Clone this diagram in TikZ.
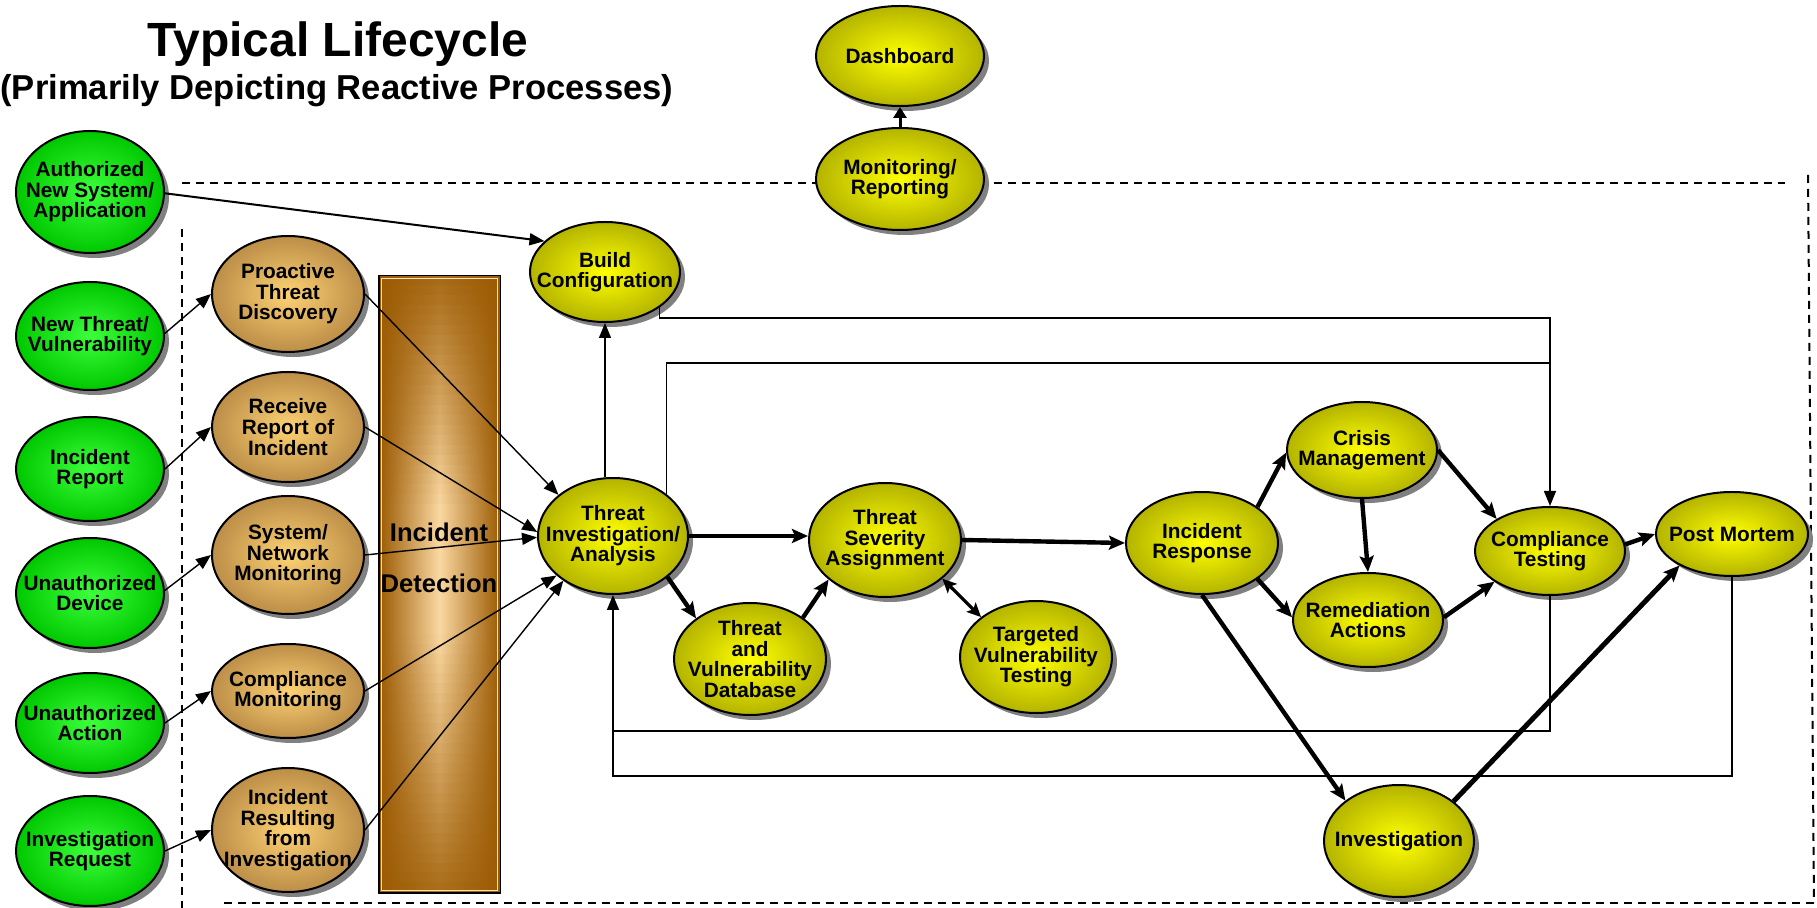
\documentclass[tikz,border=0pt]{standalone}
\usepackage{fontspec}
\setmainfont{Liberation Sans}
\usetikzlibrary{shapes.geometric, arrows.meta, shadows, calc}

\definecolor{grnin}{RGB}{60,255,60}
\definecolor{grnout}{RGB}{0,200,0}
\definecolor{tanin}{RGB}{253,210,115}
\definecolor{tanout}{RGB}{188,142,72}
\definecolor{yelin}{RGB}{255,255,0}
\definecolor{yelout}{RGB}{180,180,0}
\definecolor{barDark}{RGB}{155,90,2}
\definecolor{barLight}{RGB}{250,216,162}
\definecolor{shadowgray}{RGB}{128,128,128}

\tikzset{
  blob/.style={ellipse, draw=black, line width=1pt, inner sep=0pt, shading=radial,
    drop shadow={shadow xshift=2.5pt, shadow yshift=-2.5pt, fill=shadowgray, opacity=1}},
  gblob/.style={blob, inner color=grnin, outer color=grnout},
  tblob/.style={blob, inner color=tanin, outer color=tanout},
  yblob/.style={blob, inner color=yelin, outer color=yelout},
  sz/.style 2 args={minimum width=#1pt, minimum height=#2pt},
  txt/.style={font=\fontsize{10.4}{10.3}\selectfont\bfseries, align=center, inner sep=0pt},
  frameline/.style={line width=1pt, dash pattern=on 4pt off 3pt},
  thinline/.style={line width=0.75pt},
  thinarrow/.style={line width=0.7pt, -{Triangle[length=7.5pt, width=6pt]}},
  medarrow/.style={line width=1pt, -{Triangle[length=7.5pt, width=6pt]}},
  thickarrow/.style={line width=2.2pt, -{Stealth[length=8pt, width=7pt, inset=1.5pt]}},
  dblarrow/.style={line width=1.6pt, {Stealth[length=7pt, width=6.5pt, inset=1.5pt]}-{Stealth[length=7pt, width=6.5pt, inset=1.5pt]}},
}

\begin{document}
\begin{tikzpicture}[x=0.5pt, y=-0.5pt]
\useasboundingbox (0,0) rectangle (1817,908);

% title
\node[font=\fontsize{24}{28}\selectfont\bfseries, anchor=base] (title) at (338,57) {Typical Lifecycle};
\node[font=\fontsize{17.3}{20}\selectfont\bfseries, anchor=base] (subtitle) at (337,100) {(Primarily Depicting Reactive Processes)};

% dashed boundary of the process area
\draw[frameline] (182,183) -- (1785,183);
\draw[frameline] (182,229) -- (182,908);
\draw[frameline] (1808,175) -- (1814,903);
\draw[frameline] (224,903) -- (1814,903);

% incident detection bar: horizontal strips, each shaded dark-light-dark,
% with the light centre brightest around the middle of the bar
\node[minimum width=60.5pt, minimum height=308.5pt, inner sep=0pt] (bar) at (439.5,584.5) {};
\foreach \i in {0,...,61}{
  \pgfmathsetmacro\t{(\i+0.5)/62}
  \pgfmathsetmacro\L{\t<0.38 ? 100*(0.12+0.88*\t/0.38) : (\t<0.58 ? 100 : 100*(1-0.85*(\t-0.58)/0.42))}
  \colorlet{stripmid}{barLight!\L!barDark}
  \path[left color=barDark, right color=barDark, middle color=stripmid]
    (379,{276+\i*9.95}) rectangle (500,{286.5+\i*9.95});
}
\draw[barLight!80!white, line width=0.6pt] ($(bar.north west)+(3,3)$) rectangle ($(bar.south east)+(-3,-3)$);
\draw[line width=0.9pt] (bar.north west) rectangle (bar.south east);
\node[font=\fontsize{12.8}{14}\selectfont\bfseries, anchor=base] (bar-t1) at (439,542) {Incident};
\node[font=\fontsize{12.8}{14}\selectfont\bfseries, anchor=base] (bar-t2) at (439,593) {Detection};

% triggers
\node[gblob, sz={74}{61}] (auth) at (90,192) {};
\node[txt] (auth-t) at (auth) {Authorized\\New System/\\Application};
\node[gblob, sz={74}{54}] (nthreat) at (90,336) {};
\node[txt] (nthreat-t) at (nthreat) {New Threat/\\Vulnerability};
\node[gblob, sz={74}{52}] (irep) at (90,469) {};
\node[txt] (irep-t) at (irep) {Incident\\Report};
\node[gblob, sz={74}{55}] (udev) at (90,593) {};
\node[txt] (udev-t) at (udev) {Unauthorized\\Device};
\node[gblob, sz={74}{50}] (uact) at (90,723) {};
\node[txt] (uact-t) at (uact) {Unauthorized\\Action};
\node[gblob, sz={74}{55}] (ireq) at (90,851) {};
\node[txt] (ireq-t) at (ireq) {Investigation\\Request};

% detection sources
\node[tblob, sz={76}{58}] (ptd) at (288,294) {};
\node[txt] (ptd-t) at (ptd) {Proactive\\Threat\\Discovery};
\node[tblob, sz={76}{55}] (rri) at (288,427) {};
\node[txt] (rri-t) at (rri) {Receive\\Report of\\Incident};
\node[tblob, sz={76}{59}] (snm) at (288,555) {};
\node[txt] (snm-t) at (snm) {System/\\Network\\Monitoring};
\node[tblob, sz={76}{47}] (cmon) at (288,691) {};
\node[txt] (cmon-t) at (cmon) {Compliance\\Monitoring};
\node[tblob, sz={76}{62}] (irfi) at (288,830) {};
\node[txt] (irfi-t) at (irfi) {Incident\\Resulting\\from\\Investigation};

% process steps
\node[yblob, sz={84}{50}] (dash) at (900,56) {};
\node[txt] (dash-t) at (dash) {Dashboard};
\node[yblob, sz={84}{51}] (monrep) at (900,179) {};
\node[txt] (monrep-t) at (monrep) {Monitoring/\\Reporting};
\node[yblob, sz={75}{50}] (build) at (605,272) {};
\node[txt] (build-t) at (build) {Build\\Configuration};
\node[yblob, sz={75}{58}] (tia) at (613,536) {};
\node[txt] (tia-t) at (tia) {Threat\\Investigation/\\Analysis};
\node[yblob, sz={76}{57}] (tsa) at (885,540) {};
\node[txt] (tsa-t) at (tsa) {Threat\\Severity\\Assignment};
\node[yblob, sz={76}{56}] (tvd) at (750,659) {};
\node[txt] (tvd-t) at (tvd) {Threat\\and\\Vulnerability\\Database};
\node[yblob, sz={76}{56}] (tvt) at (1036,657) {};
\node[txt] (tvt-t) at (tvt) {Targeted\\Vulnerability\\Testing};
\node[yblob, sz={76}{51}] (ir) at (1202,543) {};
\node[txt] (ir-t) at (ir) {Incident\\Response};
\node[yblob, sz={75}{48}] (cm) at (1362,450) {};
\node[txt] (cm-t) at (cm) {Crisis\\Management};
\node[yblob, sz={75}{47}] (ra) at (1368,620) {};
\node[txt] (ra-t) at (ra) {Remediation\\Actions};
\node[yblob, sz={75}{44}] (ct) at (1550,551) {};
\node[txt] (ct-t) at (ct) {Compliance\\Testing};
\node[yblob, sz={76}{42}] (pm) at (1732,534) {};
\node[txt] (pm-t) at (pm) {Post Mortem};
\node[yblob, sz={75}{56}] (inv) at (1399,841) {};
\node[txt] (inv-t) at (inv) {Investigation};

% bend points of the routed lines
\coordinate (bus1) at (1550,318);
\coordinate (bus2) at (1550,363);
\coordinate (fb1) at (613,731);
\coordinate (fb2) at (613,776);

% connectors
\draw[medarrow] (auth.-1) -- (build.153);
\draw[thinarrow] (nthreat.2) -- (ptd.west);
\draw[thinarrow] (irep.east) -- (rri.west);
\draw[thinarrow] (udev.2) -- (snm.west);
\draw[thinarrow] (uact.east) -- (cmon.west);
\draw[thinarrow] (ireq.east) -- (irfi.west);
\draw[thinarrow] (ptd.east) -- (tia.143);
\draw[thinarrow] (rri.east) -- (tia.177);
\draw[thinarrow] (snm.east) -- (tia.181);
\draw[thinarrow] (cmon.east) -- (tia.215);
\draw[thinarrow] (irfi.east) -- (tia.222);
\draw[thinarrow] (build.south |- tia.north) -- (build.south);
\draw[thinline, -{Triangle[length=7.5pt, width=6pt]}] (build.-33) |- (bus1) -- (ct.north);
\draw[thinline] (tia.38) |- (bus2);
\draw[thickarrow] (tia.east) -- (tia.east -| tsa.west);
\draw[thickarrow] (tia.-37) -- (tvd.143);
\draw[thickarrow] (tvd.38) -- (tsa.215);
\draw[dblarrow] (tsa.-34) -- (tvt.144);
\draw[thickarrow] (tsa.east) -- (ir.west);
\draw[thickarrow] (ir.33) -- (cm.182);
\draw[thickarrow] (ir.-33) -- (ra.178);
\draw[thickarrow] (cm.south) -- (ra.north);
\draw[thickarrow] (cm.east) -- (ct.149);
\draw[thickarrow] (ra.2) -- (ct.209);
\draw[thickarrow] (ct.5) -- (pm.west);
\draw[thickarrow] (ir.south) -- (inv.143);
\draw[thickarrow, line width=2.5pt] (inv.36) -- (pm.211);
\draw[thinline] (ct.south) |- (fb1);
\draw[thinline, -{Triangle[length=7.5pt, width=6pt]}] (pm.south) |- (fb2) -- (tia.south);
\draw[line width=1.5pt, -{Triangle[length=5.5pt, width=6.5pt]}] (monrep.north) -- (dash.south);
\end{tikzpicture}
\end{document}
